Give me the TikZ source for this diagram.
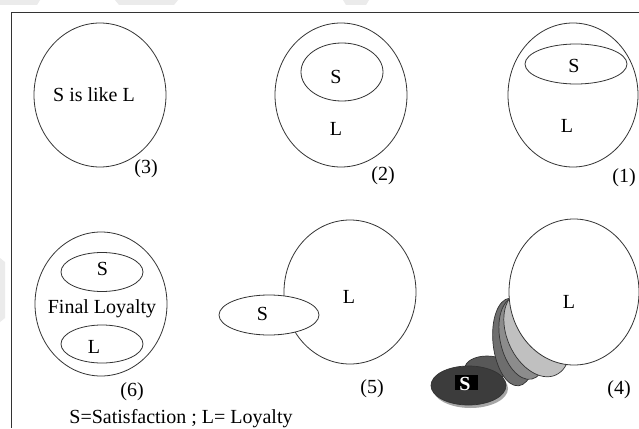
\documentclass[tikz,border=0pt]{standalone}
\usepackage{fontspec}
\setmainfont{Liberation Serif}
\usetikzlibrary{shapes.geometric}
\definecolor{edge}{HTML}{333333}
\definecolor{wmark}{HTML}{EBEBEB}
\begin{document}
\begin{tikzpicture}[x=1pt,y=-1pt,
  ring/.style={draw=edge, line width=0.8pt, ellipse, inner sep=0pt, fill=white},
  blob/.style={draw=edge, line width=0.7pt, ellipse, inner sep=0pt},
  lbl/.style={font=\fontsize{20}{22}\selectfont, inner sep=0pt, anchor=base},
]
\useasboundingbox (0,0) rectangle (639,428);
\fill[white] (0,0) rectangle (639,428);

% faint background marks
\fill[wmark] (0,0) -- (40,0) -- (37,5) -- (0,5) -- cycle;
\fill[wmark] (115,0) -- (178,0) -- (174,5) -- (119,5) -- cycle;
\fill[wmark] (343,0) -- (369,0) -- (366,5) -- (346,5) -- cycle;
\fill[wmark] (0,258) -- (5,262) -- (5,318) -- (0,322) -- cycle;

% frame
\draw[edge, line width=0.8pt] (639,12) -- (11,12) -- (11,428);

% (3) S is like L
\node[ring, minimum width=132pt, minimum height=144pt] (c3) at (100,95) {};
\node[lbl] (t3) at (94,101) {S is like L};
\node[lbl] (n3) at (146,173) {(3)};

% (2) S inside L
\node[ring, minimum width=132pt, minimum height=144pt] (l2) at (341,95) {};
\node[ring, minimum width=82pt, minimum height=58pt] (s2) at (342,72) {};
\node[lbl] (ts2) at (336,83) {S};
\node[lbl] (tl2) at (336,135) {L};
\node[lbl] (n2) at (383,180) {(2)};

% (1) wide S inside L
\node[ring, minimum width=130pt, minimum height=144pt] (l1) at (573,95) {};
\node[ring, minimum width=102pt, minimum height=40pt] (s1) at (576,64) {};
\node[lbl] (ts1) at (574,72) {S};
\node[lbl] (tl1) at (567,132) {L};
\node[lbl] (n1) at (624,182) {(1)};

% (6) final loyalty
\node[ring, minimum width=132pt, minimum height=144pt] (f6) at (101,304) {};
\node[ring, minimum width=82pt, minimum height=39pt] (s6) at (102,272) {};
\node[ring, minimum width=82pt, minimum height=38pt] (l6) at (102,344) {};
\node[lbl] (ts6) at (102.5,275) {S};
\node[lbl] (tf6) at (102,313) {Final Loyalty};
\node[lbl] (tl6) at (94,353) {L};
\node[lbl] (n6) at (132,396) {(6)};

% (5) S overlapping L
\node[ring, minimum width=132pt, minimum height=144pt] (l5) at (350,292) {};
\node[ring, minimum width=100pt, minimum height=40pt] (s5) at (269,315) {};
\node[lbl] (tl5) at (349,303) {L};
\node[lbl] (ts5) at (262.5,320) {S};
\node[lbl] (n5) at (372,393) {(5)};

% (4) S growing into L
\node[blob, fill={rgb,255:red,88;green,88;blue,88}, minimum width=44pt, minimum height=24pt] (g1) at (487,368) {};
\node[ellipse, fill=black!35, inner sep=0pt, minimum width=75pt, minimum height=39pt] (sh4) at (470.5,388.5) {};
\node[blob, fill={rgb,255:red,60;green,60;blue,60}, minimum width=75pt, minimum height=39pt] (s4) at (468.5,385.5) {};
\node[blob, fill={rgb,255:red,110;green,110;blue,110}, minimum width=42pt, minimum height=88pt, rotate=6] (g2) at (514,342) {};
\node[blob, fill={rgb,255:red,140;green,140;blue,140}, minimum width=46pt, minimum height=84pt, rotate=12] (g3) at (523,338) {};
\node[blob, fill={rgb,255:red,192;green,192;blue,192}, minimum width=60pt, minimum height=92pt, rotate=24] (g4) at (537,333) {};
\node[ring, minimum width=130pt, minimum height=146pt] (l4) at (574,292) {};
\fill[black] (455,375) rectangle (478,390);
\node[lbl, font=\fontsize{20}{22}\selectfont\bfseries, text=white] (ts4) at (465,390) {S};
\node[lbl] (tl4) at (569,308) {L};
\node[lbl] (n4) at (619,394) {(4)};

% legend
\node[lbl] (key) at (181,423) {S=Satisfaction ; L= Loyalty};
\end{tikzpicture}
\end{document}
